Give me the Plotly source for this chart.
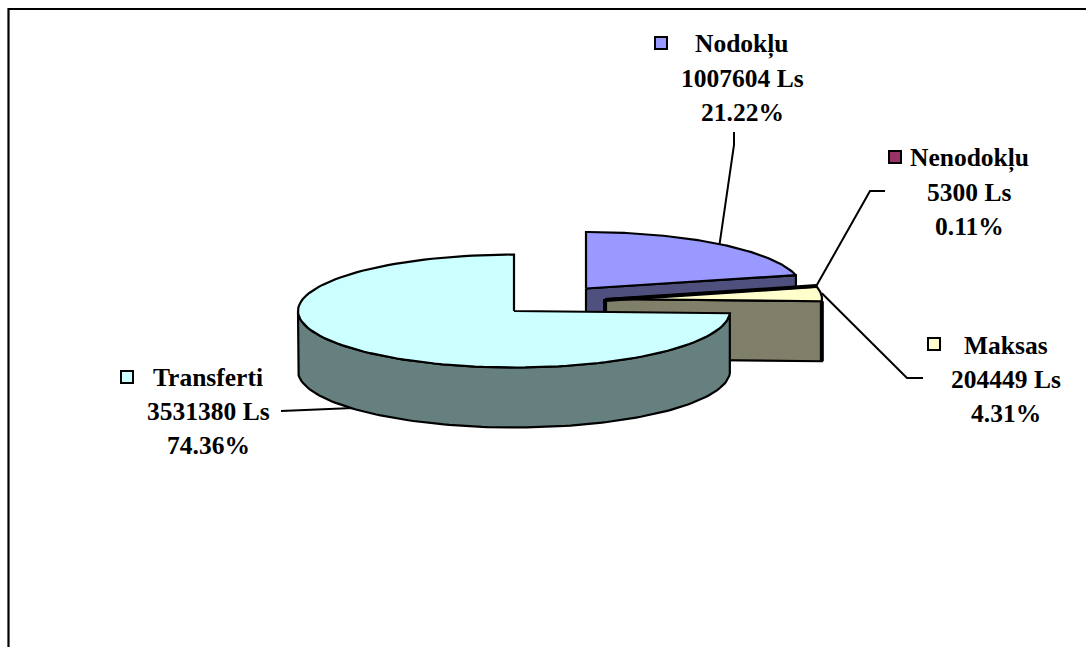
import math
import plotly.graph_objects as go

categories = ["Nodokļu", "Nenodokļu", "Maksas", "Transferti"]
values = [1007604, 5300, 204449, 3531380]
top_colors = ["#9999FF", "#993366", "#FFFFCC", "#CCFFFF"]
wall_colors = ["#50507F", "#4D1A33", "#80806A", "#668080"]

RX, RY, DEPTH = 216, 56.5, 60
centers = [(586, 288.5), (597, 294), (606, 299), (514, 311)]
label_pos = [(742, 44), (969, 158), (1006, 345), (208, 377)]
key_pos = [(661, 43), (895, 157), (934, 344), (127, 377)]
LINE = 34
FONT = "Liberation Serif"
FS = 25.5

total = sum(values)
spans = []
a = 0.0
for v in values:
    spans.append((a, a + v / total * 2 * math.pi))
    a += v / total * 2 * math.pi


def pt(c, t, dz=0.0):
    return c[0] + RX * math.sin(t), c[1] - RY * math.cos(t) + dz


def arc(c, t0, t1, dz=0.0, n=120):
    return [pt(c, t0 + (t1 - t0) * i / n, dz) for i in range(n + 1)]


fig = go.Figure()


def poly(points, fill, width=2.2):
    fig.add_trace(go.Scatter(
        x=[p[0] for p in points], y=[p[1] for p in points], mode="lines",
        fill="toself", fillcolor=fill, line=dict(color="black", width=width),
        hoverinfo="skip", showlegend=False))


def path(points, width=2):
    fig.add_trace(go.Scatter(
        x=[p[0] for p in points], y=[p[1] for p in points], mode="lines",
        line=dict(color="black", width=width), hoverinfo="skip", showlegend=False))


def wedge(i):
    c = centers[i]
    t0, t1 = spans[i]
    poly([c] + arc(c, t0, t1) + [c], top_colors[i])


def radial_wall(i, t):
    c = centers[i]
    e = pt(c, t)
    poly([c, e, (e[0], e[1] + DEPTH), (c[0], c[1] + DEPTH), c], wall_colors[i])


mid = lambda i: sum(spans[i]) / 2

# Leader lines run beneath the pie
path([(734, 132), (734, 145), pt(centers[0], mid(0))])
path([(885, 191), (870, 191), pt(centers[2], spans[2][0])])
path([(923, 378), (907, 378), pt(centers[2], spans[2][1], -8)])
path([(281, 411), (353, 408)])

# Nodoklu: end wall, then top
radial_wall(0, spans[0][1])
wedge(0)

# Maksas: end wall with heavy edges, then top
c2 = centers[2]
t0, t1 = spans[2]
radial_wall(2, t1)
wedge(2)
path([(c2[0] - 1, c2[1] + 1), pt(c2, t0)], 4)
path([(c2[0] - 1, c2[1]), (c2[0] - 1, c2[1] + 14)], 4)
e = pt(c2, t1)
path([e, (e[0], e[1] + DEPTH)], 4)

# Transferti: outer wall across the front, then top
c3 = centers[3]
t0, t1 = spans[3]
front = arc(c3, t0, 1.5 * math.pi)
poly(front + [(p[0], p[1] + DEPTH) for p in reversed(front)] + [front[0]], wall_colors[3])
wedge(3)

# Legend keys
for i in range(4):
    fig.add_trace(go.Scatter(
        x=[key_pos[i][0]], y=[key_pos[i][1]], mode="markers",
        marker=dict(symbol="square", size=12, color=top_colors[i],
                    line=dict(color="black", width=2)),
        hoverinfo="skip", showlegend=False))

# Labels
for i, name in enumerate(categories):
    lines = [name, f"{values[i]} Ls", f"{values[i] / total * 100:.2f}%"]
    for j, txt in enumerate(lines):
        fig.add_annotation(x=label_pos[i][0], y=label_pos[i][1] + j * LINE, text=f"<b>{txt}</b>",
                           showarrow=False, xanchor="center", yanchor="middle",
                           font=dict(family=FONT, size=FS, color="black"))

# Chart area frame (cut by the page at the bottom and right)
path([(8.5, 647), (8.5, 9), (1086, 9)], 2.2)

fig.update_layout(
    width=1086, height=647, margin=dict(l=0, r=0, t=0, b=0),
    paper_bgcolor="white", plot_bgcolor="white", showlegend=False,
    xaxis=dict(range=[0, 1086], visible=False, fixedrange=True),
    yaxis=dict(range=[647, 0], visible=False, fixedrange=True),
)
fig.write_html("out.html", config={"displayModeBar": False},
               post_script="document.body.style.margin='0';document.body.style.overflow='hidden';")
